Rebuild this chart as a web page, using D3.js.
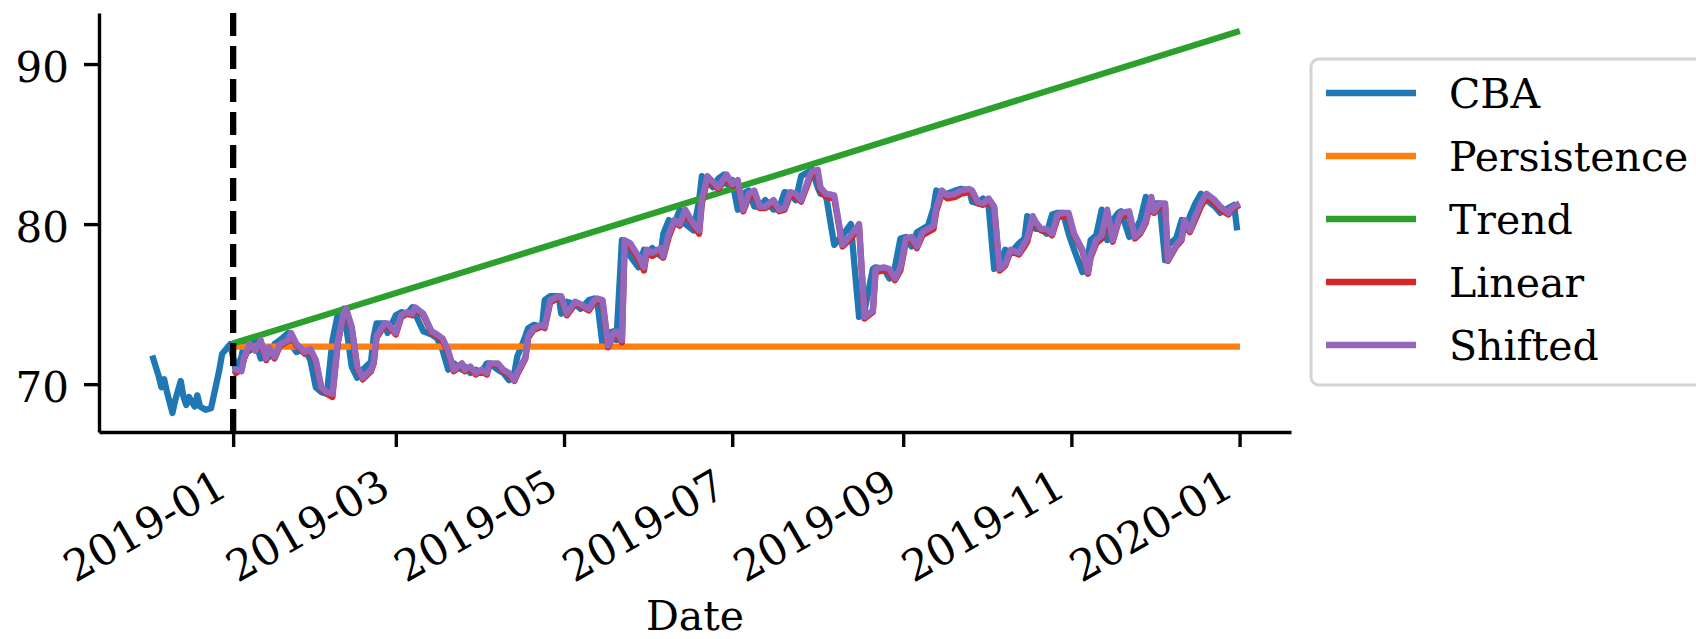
<!DOCTYPE html>
<html>
<head>
<meta charset="utf-8">
<script src="https://cdn.jsdelivr.net/npm/d3@7"></script>
<style>
  body { margin: 0; background: #fff; }
  text { font-family: "DejaVu Serif", serif; fill: #000; }
</style>
</head>
<body>
<div id="chart-area"></div>
<script>
// days are counted from 2019-01-01
var cbaDays = [-29,-27,-26,-25,-24,-22,-21,-19,-18,-17,-16,-14,-13,-12,-10,-8,-5,-4,-2,-1,
  1,3,4,6,8,10,12,13,15,17, 20,21,23,26,28,30,32,34,36,38,
  40,41,43,45,47,50,51,52,55,56, 59,61,63,65,66,69,72,74,76,78,
  80,83,84,86,88,90,92,93,96,98, 100,102,103,106,107,109,112,113,115,118,
  119,121,124,126,129,131,132,134,136,138, 139,141,142,144,147,149,150,152,155,156,
  158,160,162,164,167,169,170,172,174,176, 178,179,181,183,185,187,189,191,193,196,
  198,200,202,204,206,209,210,212,213,215, 218,221,224,227,229,232,233,236,238,240,
  242,244,246,248,250,252,254,255,257,259, 262,264,267,268,270,272,274,276,278,280,
  282,285,287,288,290,291,293,295,297,299, 301,303,305,308,310,311,313,315,317,319,
  321,322,325,327,329,331,333,334,336,338, 339,342,344,345,347,349,351,353,356,358,
  361,362,363,364];
var cbaValues = [71.6,70.5,69.8,70.3,69.5,68.2,69.0,70.2,69.2,68.7,69.2,68.6,69.3,68.6,68.4,68.5,70.9,71.9,72.3,72.5,
  70.8,71.7,72.5,72.1,72.75,71.6,72.3,71.7,72.5,72.75, 73.2,72.5,72.0,72.2,71.5,69.8,69.5,69.4,72.7,74.4,
  74.7,73.6,71.1,70.4,70.9,71.4,73.0,73.8,73.8,73.2, 74.3,74.5,74.4,74.8,74.4,73.3,73.1,72.85,72.1,70.9,
  71.3,70.9,71.1,70.7,70.9,70.7,71.3,71.3,70.9,70.7, 70.25,70.7,71.7,73.0,73.5,73.7,73.6,75.25,75.5,75.5,
  74.4,75.15,75.0,74.7,75.25,75.35,75.25,72.4,73.2,73.3, 72.75,79.0,78.8,78.0,77.3,78.4,78.2,78.5,78.0,79.4,
  80.25,80.0,80.9,80.0,79.6,81.5,83.0,82.65,82.3,82.85, 83.1,82.5,82.75,80.9,81.9,82.1,81.1,81.1,81.5,80.9,
  81.0,82.0,81.9,81.5,83.0,83.3,83.4,82.3,81.9,81.8, 78.7,79.3,80.0,74.2,74.6,77.2,77.3,77.2,76.6,77.3,
  79.1,79.2,78.6,79.5,79.7,79.9,81.0,82.1,81.8,81.9, 82.1,82.2,82.1,81.4,81.3,81.6,81.1,77.2,77.5,78.4,
  78.2,78.8,79.1,80.5,80.15,79.7,79.7,79.4,80.6,80.7, 80.7,79.4,78.4,77.0,78.0,79.0,79.3,80.9,79.0,80.25,
  80.7,80.8,79.2,79.5,80.25,81.7,80.8,81.3,81.3,77.75, 78.7,79.1,80.25,79.6,80.5,81.3,81.9,81.5,81.1,80.7,
  81.0,81.1,81.2,79.8];

// forecasts cover the 2019 trading days only
var forecastDays = cbaDays.slice(20);
var linearValues = [70.7,70.9,71.6,72.4,72.1,72.6,71.5,72.2,71.6,72.4, 72.7,73.1,72.4,71.9,72.1,71.4,69.7,69.4,69.2,72.6,
  74.3,74.6,73.5,71.0,70.3,70.8,71.3,72.9,73.7,73.7, 73.1,74.2,74.4,74.3,74.7,74.3,73.2,73.0,72.7,72.0,
  70.8,71.2,70.8,71.0,70.6,70.8,70.6,71.2,71.2,70.8, 70.6,70.2,70.6,71.6,72.9,73.4,73.6,73.5,75.1,75.4,
  75.4,74.3,75.0,74.9,74.6,75.1,75.2,75.1,72.3,73.1, 73.2,72.6,78.8,78.6,77.8,77.1,78.2,78.0,78.3,77.9,
  79.2,80.1,79.9,80.7,79.9,79.4,81.3,82.8,82.5,82.2, 82.7,82.9,82.4,82.6,80.8,81.7,81.9,81.0,81.0,81.3,
  80.8,80.9,81.8,81.7,81.4,82.8,83.1,83.2,82.1,81.7, 81.6,78.6,79.1,79.8,74.1,74.5,77.0,77.1,77.0,76.5,
  77.1,78.9,79.0,78.5,79.3,79.5,79.7,80.8,81.9,81.6, 81.7,81.9,82.0,81.9,81.3,81.2,81.4,81.0,77.1,77.4,
  78.3,78.1,78.6,78.9,80.3,80.0,79.6,79.6,79.3,80.4, 80.5,80.5,79.3,78.3,76.9,77.9,78.8,79.1,80.7,78.9,
  80.1,80.5,80.6,79.1,79.4,80.1,81.5,80.7,81.1,81.1, 77.7,78.6,79.0,80.1,79.5,80.3,81.1,81.7,81.3,80.9,
  80.6,80.9,81.0,81.1];
var shiftedValues = [70.9,70.8,71.7,72.5,72.1,72.75,71.6,72.3,71.7,72.5, 72.75,73.2,72.5,72.0,72.2,71.5,69.8,69.5,69.4,72.7,
  74.4,74.7,73.6,71.1,70.4,70.9,71.4,73.0,73.8,73.8, 73.2,74.3,74.5,74.4,74.8,74.4,73.3,73.1,72.85,72.1,
  70.9,71.3,70.9,71.1,70.7,70.9,70.7,71.3,71.3,70.9, 70.7,70.25,70.7,71.7,73.0,73.5,73.7,73.6,75.25,75.5,
  75.5,74.4,75.15,75.0,74.7,75.25,75.35,75.25,72.4,73.2, 73.3,72.75,79.0,78.8,78.0,77.3,78.4,78.2,78.5,78.0,
  79.4,80.25,80.0,80.9,80.0,79.6,81.5,83.0,82.65,82.3, 82.85,83.1,82.5,82.75,80.9,81.9,82.1,81.1,81.1,81.5,
  80.9,81.0,82.0,81.9,81.5,83.0,83.3,83.4,82.3,81.9, 81.8,78.7,79.3,80.0,74.2,74.6,77.2,77.3,77.2,76.6,
  77.3,79.1,79.2,78.6,79.5,79.7,79.9,81.0,82.1,81.8, 81.9,82.1,82.2,82.1,81.4,81.3,81.6,81.1,77.2,77.5,
  78.4,78.2,78.8,79.1,80.5,80.15,79.7,79.7,79.4,80.6, 80.7,80.7,79.4,78.4,77.0,78.0,79.0,79.3,80.9,79.0,
  80.25,80.7,80.8,79.2,79.5,80.25,81.7,80.8,81.3,81.3, 77.75,78.7,79.1,80.25,79.6,80.5,81.3,81.9,81.5,81.1,
  80.7,81.0,81.1,81.2];
var persistenceDays = [1, 364];
var persistenceValues = [72.35, 72.35];
var trendDays = [1, 182, 364];
var trendValues = [72.6, 82.25, 92.0];

var seriesNames = ["CBA", "Persistence", "Trend", "Linear", "Shifted"];
var seriesColors = ["#1f77b4", "#ff7f0e", "#2ca02c", "#d62728", "#9467bd"];
var xTickLabels = ["2019-01", "2019-03", "2019-05", "2019-07", "2019-09", "2019-11", "2020-01"];
var yTickValues = [70, 80, 90];
var splitDate = "2019-01-01";

var width = 1696, height = 639;
var margin = { left: 99, right: 405, top: 13, bottom: 207 };
var fontSize = 41;
var tickFont = 43;

var base = Date.UTC(2019, 0, 1);
function toDate(d) { return new Date(base + d * 864e5); }
function pairs(days, vals) { return days.map(function(d, i) { return [d, vals[i]]; }); }

var svg = d3.select("#chart-area")
  .append("svg")
    .attr("width", width)
    .attr("height", height);

svg.append("rect").attr("width", width).attr("height", height).attr("fill", "#fff");

// matplotlib style 5% padding around the data
var xExt = d3.extent(cbaDays.map(toDate));
var xPad = (xExt[1] - xExt[0]) * 0.05;
var x = d3.scaleUtc()
    .domain([new Date(+xExt[0] - xPad), new Date(+xExt[1] + xPad)])
    .range([margin.left, width - margin.right]);

var allVals = cbaValues.concat(trendValues, persistenceValues, linearValues, shiftedValues);
var yMin = d3.min(allVals), yMax = d3.max(allVals);
var yPad = (yMax - yMin) * 0.05;
var y = d3.scaleLinear()
    .domain([yMin - yPad, yMax + yPad])
    .range([height - margin.bottom, margin.top]);

var line = d3.line()
    .x(function(d) { return x(toDate(d[0])); })
    .y(function(d) { return y(d[1]); });

var series = [
  pairs(cbaDays, cbaValues),
  pairs(persistenceDays, persistenceValues),
  pairs(trendDays, trendValues),
  pairs(forecastDays, linearValues),
  pairs(forecastDays, shiftedValues)
];

svg.selectAll(".series").data(series)
  .enter()
  .append("path")
    .attr("class", "series")
    .attr("d", line)
    .attr("fill", "none")
    .attr("stroke", function(d, i) { return seriesColors[i]; })
    .attr("stroke-width", 6.3)
    .attr("stroke-linejoin", "round")
    .attr("stroke-linecap", "square");

// start of the forecast period
var parseDay = d3.utcParse("%Y-%m-%d");
svg.append("line")
    .attr("x1", x(parseDay(splitDate)))
    .attr("x2", x(parseDay(splitDate)))
    .attr("y1", y.range()[0])
    .attr("y2", y.range()[1])
    .attr("stroke", "#000")
    .attr("stroke-width", 6.3)
    .attr("stroke-dasharray", "23,10");

// axes
var parseMonth = d3.utcParse("%Y-%m");
var xAxisCall = d3.axisBottom(x)
    .tickValues(xTickLabels.map(parseMonth))
    .tickFormat(d3.utcFormat("%Y-%m"))
    .tickSize(15)
    .tickSizeOuter(0);
var xAxis = svg.append("g")
    .attr("transform", "translate(0," + y.range()[0] + ")")
    .call(xAxisCall);
xAxis.selectAll("text")
    .attr("y", 0)
    .attr("dy", 0)
    .attr("text-anchor", "end")
    .attr("transform", "translate(-4,62) rotate(-30)")
    .style("font-size", tickFont + "px");

var yAxisCall = d3.axisLeft(y)
    .tickValues(yTickValues)
    .tickSize(15)
    .tickSizeOuter(0);
var yAxis = svg.append("g")
    .attr("transform", "translate(" + margin.left + ",0)")
    .call(yAxisCall);
yAxis.selectAll("text")
    .attr("x", -30)
    .attr("dy", "0.42em")
    .style("font-size", (fontSize + 1) + "px");

svg.selectAll(".domain, .tick line")
    .attr("stroke", "#000")
    .attr("stroke-width", 3.4);

svg.append("text")
    .attr("x", (x.range()[0] + x.range()[1]) / 2)
    .attr("y", 630)
    .attr("text-anchor", "middle")
    .style("font-size", fontSize + "px")
    .text("Date");

// legend
var legend = svg.append("g").attr("transform", "translate(1311,59)");
legend.append("rect")
    .attr("width", 420)
    .attr("height", 326)
    .attr("rx", 8)
    .attr("fill", "#fff")
    .attr("stroke", "#d4d4d4")
    .attr("stroke-width", 3);

var items = legend.selectAll(".item").data(seriesNames)
  .enter()
  .append("g")
    .attr("class", "item")
    .attr("transform", function(d, i) { return "translate(0," + (34 + i * 63) + ")"; });
items.append("line")
    .attr("x1", 15).attr("x2", 105)
    .attr("stroke", function(d, i) { return seriesColors[i]; })
    .attr("stroke-width", 6.3);
items.append("text")
    .attr("x", 138)
    .attr("y", 15)
    .style("font-size", fontSize + "px")
    .text(function(d) { return d; });
</script>
</body>
</html>
